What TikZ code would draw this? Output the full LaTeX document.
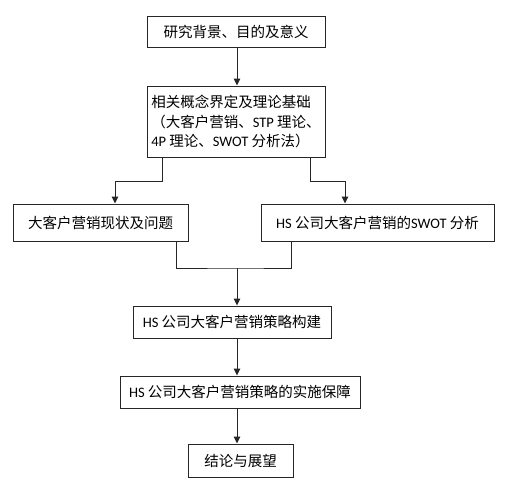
\documentclass[tikz,border=0pt]{standalone}
\usepackage{fontspec}
\setmainfont{Noto Sans CJK SC}
\newfontfamily\latfont{Carlito}
\newcommand{\lat}[1]{{\latfont #1}}
\usetikzlibrary{arrows.meta}

\begin{document}
\begin{tikzpicture}[
  x=1pt, y=-1pt,
  box/.style={draw=black!85, line width=1pt, inner sep=0pt, align=center,
              font=\fontsize{14.5}{19.5}\selectfont},
  link/.style={draw=black!85, line width=1pt},
  arr/.style={link, -{Triangle[length=7pt, width=6.5pt]}},
]
\useasboundingbox (0,0) rectangle (506,496);

\node[box, minimum width=178pt, minimum height=31pt] (bg) at (236,31.5)
  {研究背景、目的及意义};
\node[box, minimum width=178pt, minimum height=71pt, align=left] (theory) at (236,121.5)
  {相关概念界定及理论基础\\（大客户营销、\lat{STP} 理论、\\\lat{4P} 理论、\lat{SWOT} 分析法）};
\node[box, minimum width=175pt, minimum height=37pt] (status) at (100.5,222.5)
  {大客户营销现状及问题};
\node[box, minimum width=233pt, minimum height=37pt] (swot) at (377.5,222.5)
  {\lat{HS} 公司大客户营销的\lat{SWOT} 分析};
\node[box, minimum width=198pt, minimum height=32pt] (strategy) at (232,322)
  {\lat{HS} 公司大客户营销策略构建};
\node[box, minimum width=240pt, minimum height=32pt] (support) at (240,392)
  {\lat{HS} 公司大客户营销策略的实施保障};
\node[box, minimum width=105pt, minimum height=33pt] (concl) at (240.5,460.5)
  {结论与展望};

\coordinate (split) at (237,181);
\coordinate (merge) at (237,268);

\draw[arr] (bg.south -| 237,0) -- (theory.north -| 237,0);
% split into the two analyses
\draw[arr] (theory.south -| 162,0) |- (split -| 115,0) -- (status.north -| 115,0);
\draw[arr] (theory.south -| 310,0) |- (split -| 345,0) -- (swot.north -| 345,0);
% join again
\draw[link] (status.south -| 176,0) |- (merge) -| (swot.south -| 291,0);
\draw[arr] (merge) -- (strategy.north -| merge);
\draw[arr] (strategy.south -| 237,0) -- (support.north -| 237,0);
\draw[arr] (support.south -| 237,0) -- (concl.north -| 237,0);

\end{tikzpicture}
\end{document}
